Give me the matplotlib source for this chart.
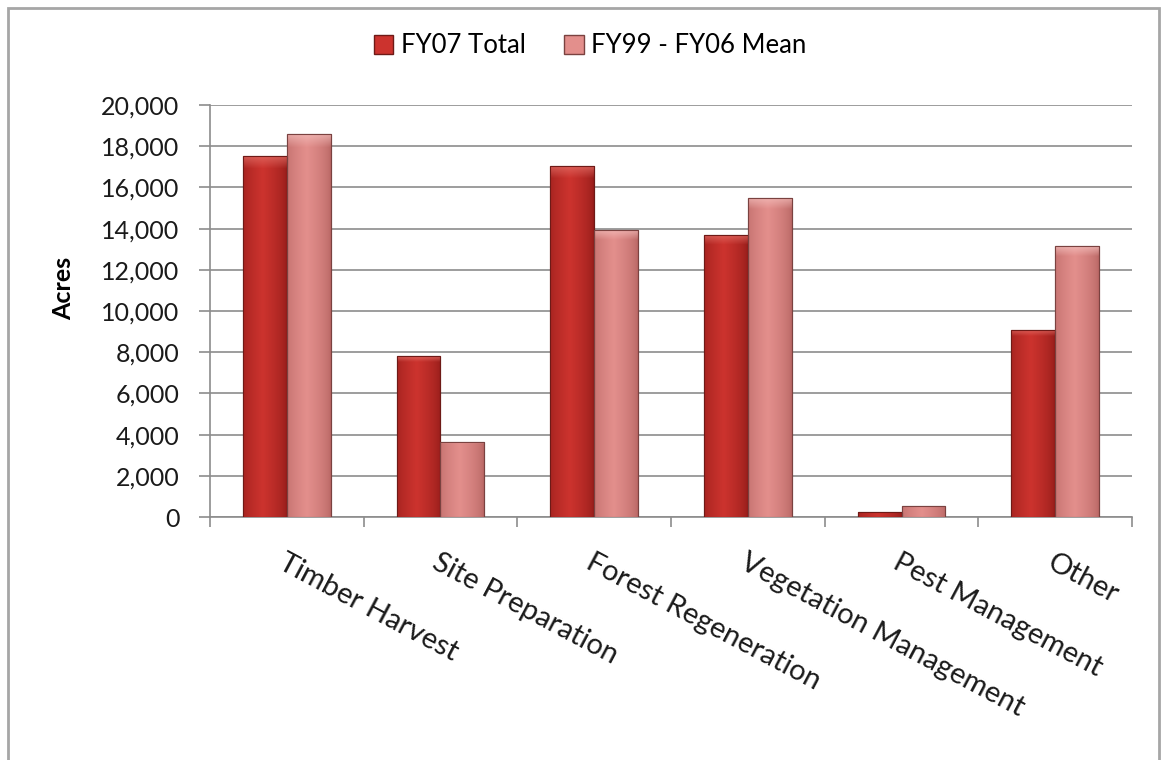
import numpy as np
import matplotlib
matplotlib.use("Agg")
import matplotlib.pyplot as plt
from matplotlib.patches import Rectangle, Patch
from matplotlib.ticker import FuncFormatter, MultipleLocator

plt.rcParams['font.family'] = ['Lato', 'DejaVu Sans']

categories = ['Timber Harvest', 'Site Preparation', 'Forest Regeneration',
              'Vegetation Management', 'Pest Management', 'Other']
fy07_total = [17550, 7800, 17050, 13700, 250, 9100]
fy99_06_mean = [18600, 3650, 13950, 15500, 550, 13150]
series_labels = ['FY07 Total', 'FY99 - FY06 Mean']

# base / edge / highlight colours for the bevelled bars
styles = [
    dict(mid=(0.80, 0.20, 0.18), side=(0.58, 0.11, 0.10), top=(0.90, 0.45, 0.42),
         edge='#6e1a17'),
    dict(mid=(0.89, 0.56, 0.55), side=(0.72, 0.40, 0.39), top=(0.96, 0.76, 0.75),
         edge='#7a4240'),
]


def bevel_image(st, n=64):
    # horizontal shading: darker at the sides, brightest a bit left of centre
    u = np.linspace(0, 1, n)
    prof = np.clip(1 - np.abs(u - 0.45) / 0.55, 0, 1) ** 0.6
    mid = np.array(st['mid'])
    side = np.array(st['side'])
    row = side + (mid - side) * prof[:, None]
    img = np.repeat(row[None, :, :], 200, axis=0)
    # lighter strip along the top of the bar
    v = np.linspace(0, 1, 200)
    w = np.clip(1 - v / 0.035, 0, 1)[:, None, None]
    img = img * (1 - w * 0.7) + np.array(st['top']) * w * 0.7
    return np.clip(img, 0, 1)


fig = plt.figure(figsize=(11.62, 7.6), dpi=100)
ax = fig.add_axes([0.1807, 0.3197, 0.7935, 0.5421])

x = np.arange(len(categories))
width = 0.286
for k, (vals, st) in enumerate(zip([fy07_total, fy99_06_mean], styles)):
    offs = (k - 0.5) * width
    bars = ax.bar(x + offs, vals, width, color=st['mid'], edgecolor=st['edge'],
                  linewidth=0.8, zorder=3)
    img = bevel_image(st)
    for b in bars:
        x0, y0 = b.get_x(), b.get_y()
        w, h = b.get_width(), b.get_height()
        im = ax.imshow(img, extent=(x0, x0 + w, y0, y0 + h), origin='upper',
                       aspect='auto', zorder=3.5, interpolation='bilinear')
        im.set_clip_path(b)
        ax.add_patch(Rectangle((x0, y0), w, h, fill=False, edgecolor=st['edge'],
                               linewidth=0.8, zorder=4))

ax.set_xlim(-0.5, len(categories) - 0.5)
ax.set_ylim(0, 20000)
ax.yaxis.set_major_locator(MultipleLocator(2000))
ax.yaxis.set_major_formatter(FuncFormatter(lambda v, p: f'{int(v):,}'))
ax.grid(axis='y', color='#8c8c8c', linewidth=1.2, zorder=0)
ax.set_axisbelow(True)

for s in ['top', 'right']:
    ax.spines[s].set_visible(False)
for s in ['left', 'bottom']:
    ax.spines[s].set_color('#8c8c8c')
    ax.spines[s].set_linewidth(1.2)

ax.set_xticks(np.arange(len(categories) + 1) - 0.5, minor=False)
ax.set_xticklabels([])
ax.tick_params(axis='x', which='major', length=7, color='#8c8c8c', width=1.2,
               direction='out')
ax.set_xticks(x, minor=True)
ax.set_xticklabels(categories, minor=True, rotation=-28, ha='left', va='top',
                   rotation_mode='anchor', fontsize=21, color='#1a1a1a')
ax.tick_params(axis='x', which='minor', length=0, pad=23)
ax.tick_params(axis='y', length=8, color='#8c8c8c', width=1.2, labelsize=18,
               labelcolor='#1a1a1a', pad=14)

ax.set_ylabel('Acres', fontsize=18, fontweight='bold')
ax.yaxis.set_label_coords(-0.146, 0.555)

handles = [Patch(facecolor=st['mid'], edgecolor=st['edge']) for st in styles]
fig.legend(handles, series_labels, loc='center', bbox_to_anchor=(0.508, 0.94),
           ncol=2, frameon=False, fontsize=18.5, handlelength=0.75,
           handleheight=0.75, handletextpad=0.3, columnspacing=1.5)

fig.patches.append(Rectangle((8 / 1162, -0.05), 1151 / 1162, 1.04,
                             transform=fig.transFigure, fill=False,
                             edgecolor='#a6a6a6', linewidth=2))

fig.savefig('out.png', dpi=100)
